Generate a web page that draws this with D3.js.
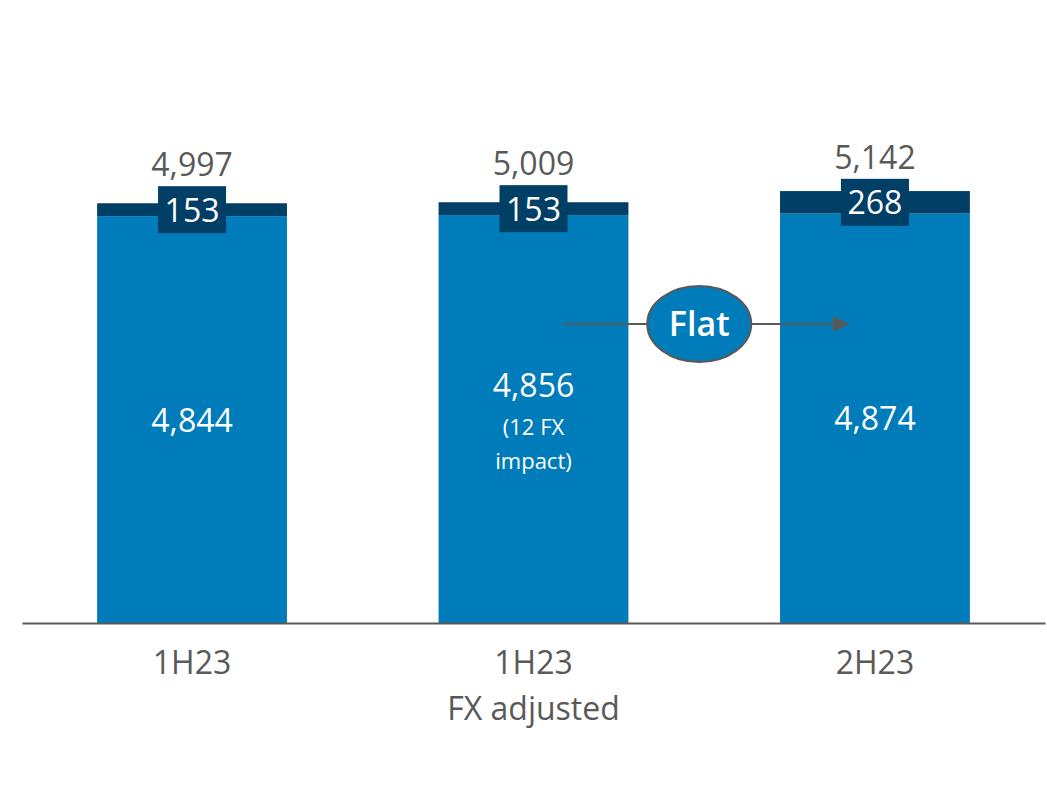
<!DOCTYPE html>
<html>
<head>
<meta charset="utf-8">
<script src="https://cdn.jsdelivr.net/npm/d3@7"></script>
<style>
  html, body { margin: 0; padding: 0; background: #ffffff; }
  svg { display: block; font-family: "Open Sans", "Noto Sans", sans-serif; }
</style>
</head>
<body>
<svg id="chart" width="1047" height="805"></svg>
<script>
// ---- data ----
const categoryIds = ["a", "b", "c"];
const categoryLines = [["1H23"], ["1H23", "FX adjusted"], ["2H23"]];
const baseValues = [4844, 4856, 4874];
const topValues = [153, 153, 268];
const baseNotes = [[], ["(12 FX", "impact)"], []];
const changeLabel = "Flat";

const COLORS = { base: "#007cba", top: "#023f66", text: "#595959", axis: "#595959" };

const svg = d3.select("#chart");
const baselineY = 623;
const arrowY = 324;

const x = d3.scaleBand().domain(categoryIds).range([22, 1045]).paddingInner(0.444).paddingOuter(0.22);
const y = d3.scaleLinear().domain([0, 7000]).range([baselineY, baselineY - 588]);

const data = categoryIds.map((id, i) => ({
  id, base: baseValues[i], top: topValues[i], total: baseValues[i] + topValues[i], notes: baseNotes[i]
}));

const fmt = d3.format(",");

// base segments
svg.selectAll("rect.base").data(data).enter().append("rect")
  .attr("class", "base")
  .attr("x", d => x(d.id)).attr("width", x.bandwidth())
  .attr("y", d => y(d.base)).attr("height", d => y(0) - y(d.base))
  .attr("fill", COLORS.base);

// top segments
svg.selectAll("rect.top").data(data).enter().append("rect")
  .attr("class", "top")
  .attr("x", d => x(d.id)).attr("width", x.bandwidth())
  .attr("y", d => y(d.total)).attr("height", d => y(d.base) - y(d.total))
  .attr("fill", COLORS.top);

// top labels boxes
const boxW = 68, boxH = 47;
const topG = svg.selectAll("g.toplab").data(data).enter().append("g").attr("class", "toplab")
  .attr("transform", d => `translate(${x(d.id) + x.bandwidth() / 2},${(y(d.total) + y(d.base)) / 2})`);
topG.append("rect").attr("x", -boxW / 2).attr("y", -boxH / 2).attr("width", boxW).attr("height", boxH)
  .attr("fill", COLORS.top);
topG.append("text").attr("text-anchor", "middle").attr("y", 12)
  .attr("font-size", 32).attr("fill", "#ffffff").text(d => fmt(d.top));
// totals
topG.append("text").attr("text-anchor", "middle").attr("y", -boxH / 2 - 10)
  .attr("font-size", 32).attr("fill", COLORS.text).text(d => fmt(d.total));

// base labels
const baseG = svg.selectAll("g.baselab").data(data).enter().append("g").attr("class", "baselab")
  .attr("transform", d => `translate(${x(d.id) + x.bandwidth() / 2},${(y(d.base) + y(0)) / 2})`);
baseG.append("text").attr("text-anchor", "middle")
  .attr("y", d => d.notes.length ? -22 : 12)
  .attr("font-size", 32).attr("fill", "#ffffff").text(d => fmt(d.base));
baseG.each(function(d) {
  d.notes.forEach((n, j) => {
    d3.select(this).append("text").attr("text-anchor", "middle")
      .attr("y", 16 + j * 34).attr("font-size", 22).attr("fill", "#ffffff").text(n);
  });
});

// x axis
const axis = d3.axisBottom(x).tickSize(0).tickSizeOuter(0).tickFormat(() => "");
const axG = svg.append("g").attr("transform", `translate(0,${baselineY})`).call(axis);
axG.select(".domain").attr("stroke", COLORS.axis).attr("stroke-width", 2);
axG.selectAll(".tick").each(function(id, i) {
  const t = d3.select(this).select("text");
  t.attr("y", 0).attr("dy", null).attr("font-size", 32).attr("fill", COLORS.text)
    .attr("font-family", "'Open Sans', sans-serif");
  categoryLines[i].forEach((line, j) => {
    t.append("tspan").attr("x", 0).attr("y", 51 + j * 46).text(line);
  });
});

// Flat arrow between bar 2 and bar 3
const mid1 = x("b") + x.bandwidth() / 2 + 30;
const mid2 = x("c") + x.bandwidth() / 2 - 26;
svg.append("defs").append("marker").attr("id", "ah")
  .attr("viewBox", "0 0 10 10").attr("refX", 10).attr("refY", 5)
  .attr("markerWidth", 16).attr("markerHeight", 16).attr("markerUnits", "userSpaceOnUse")
  .attr("orient", "auto")
  .append("path").attr("d", "M0,0 L10,5 L0,10 Z").attr("fill", COLORS.axis);
svg.append("line").attr("x1", mid1).attr("x2", mid2).attr("y1", arrowY).attr("y2", arrowY)
  .attr("stroke", COLORS.axis).attr("stroke-width", 2).attr("marker-end", "url(#ah)");
const cx = (x("b") + x.bandwidth() + x("c")) / 2 - 5;
svg.append("ellipse").attr("cx", cx).attr("cy", arrowY).attr("rx", 52).attr("ry", 38)
  .attr("fill", COLORS.base).attr("stroke", COLORS.axis).attr("stroke-width", 2);
svg.append("text").attr("x", cx).attr("y", arrowY + 12).attr("text-anchor", "middle")
  .attr("font-size", 34).attr("font-weight", 600).attr("fill", "#ffffff").text(changeLabel);
</script>
</body>
</html>
